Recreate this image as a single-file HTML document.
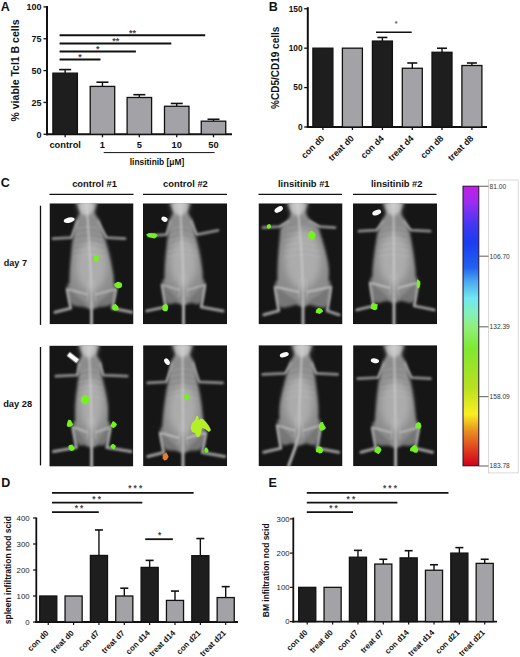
<!DOCTYPE html>
<html><head><meta charset="utf-8"><title>Figure</title>
<style>html,body{margin:0;padding:0;background:#fff;} svg{display:block;} text{font-family:"Liberation Sans", sans-serif;}</style>
</head><body>
<svg width="520" height="657" viewBox="0 0 520 657">
<defs>
<filter id="blur05" x="-50%" y="-50%" width="200%" height="200%"><feGaussianBlur stdDeviation="0.5"/></filter>
<filter id="blur1" x="-20%" y="-20%" width="140%" height="140%"><feGaussianBlur stdDeviation="0.8"/></filter>
<filter id="blur2" x="-20%" y="-20%" width="140%" height="140%"><feGaussianBlur stdDeviation="1.6"/></filter>
<filter id="blur3" x="-30%" y="-30%" width="160%" height="160%"><feGaussianBlur stdDeviation="3.5"/></filter>
<linearGradient id="cbar" x1="0" y1="0" x2="0" y2="1">
<stop offset="0" stop-color="#c41ee6"/>
<stop offset="0.06" stop-color="#9a2cf0"/>
<stop offset="0.13" stop-color="#4a36f2"/>
<stop offset="0.20" stop-color="#1a3cf0"/>
<stop offset="0.29" stop-color="#2260ee"/>
<stop offset="0.34" stop-color="#4aa8f0"/>
<stop offset="0.40" stop-color="#70e8f0"/>
<stop offset="0.45" stop-color="#80f0c0"/>
<stop offset="0.50" stop-color="#90f080"/>
<stop offset="0.58" stop-color="#80e830"/>
<stop offset="0.72" stop-color="#b8e020"/>
<stop offset="0.815" stop-color="#f8f020"/>
<stop offset="0.875" stop-color="#e89020"/>
<stop offset="0.94" stop-color="#e04020"/>
<stop offset="1" stop-color="#d00018"/>
</linearGradient>
</defs>
<rect width="520" height="657" fill="#fff"/>
<text x="0.8" y="10.9" font-size="12.5" font-weight="bold" text-anchor="start" fill="#111">A</text>
<line x1="47" y1="6" x2="47" y2="135.3" stroke="#111" stroke-width="2"/>
<line x1="43.5" y1="134.3" x2="47" y2="134.3" stroke="#111" stroke-width="1.3"/>
<text x="41.5" y="137.5" font-size="9" font-weight="bold" text-anchor="end" fill="#111">0</text>
<line x1="43.5" y1="102.45000000000002" x2="47" y2="102.45000000000002" stroke="#111" stroke-width="1.3"/>
<text x="41.5" y="105.65000000000002" font-size="9" font-weight="bold" text-anchor="end" fill="#111">25</text>
<line x1="43.5" y1="70.60000000000001" x2="47" y2="70.60000000000001" stroke="#111" stroke-width="1.3"/>
<text x="41.5" y="73.80000000000001" font-size="9" font-weight="bold" text-anchor="end" fill="#111">50</text>
<line x1="43.5" y1="38.750000000000014" x2="47" y2="38.750000000000014" stroke="#111" stroke-width="1.3"/>
<text x="41.5" y="41.95000000000002" font-size="9" font-weight="bold" text-anchor="end" fill="#111">75</text>
<line x1="43.5" y1="6.900000000000006" x2="47" y2="6.900000000000006" stroke="#111" stroke-width="1.3"/>
<text x="41.5" y="10.100000000000005" font-size="9" font-weight="bold" text-anchor="end" fill="#111">100</text>
<text x="18.8" y="70.5" font-size="10.5" font-weight="bold" text-anchor="middle" fill="#111" transform="rotate(-90 18.8 70.5)">% viable Tcl1 B cells</text>
<line x1="46" y1="134.3" x2="232" y2="134.3" stroke="#111" stroke-width="2"/>
<line x1="65.15" y1="69.58080000000001" x2="65.15" y2="73.14800000000001" stroke="#111" stroke-width="1.4"/>
<line x1="59.150000000000006" y1="69.58080000000001" x2="71.15" y2="69.58080000000001" stroke="#111" stroke-width="1.6"/>
<rect x="52.90" y="73.15" width="24.50" height="61.15" fill="#1e1e1e" stroke="#111" stroke-width="1.3"/>
<line x1="65.15" y1="134.3" x2="65.15" y2="137.3" stroke="#111" stroke-width="1.3"/>
<line x1="102.45" y1="82.19340000000001" x2="102.45" y2="86.39760000000001" stroke="#111" stroke-width="1.4"/>
<line x1="96.45" y1="82.19340000000001" x2="108.45" y2="82.19340000000001" stroke="#111" stroke-width="1.6"/>
<rect x="90.20" y="86.40" width="24.50" height="47.90" fill="#a3a3a7" stroke="#111" stroke-width="1.3"/>
<line x1="102.45" y1="134.3" x2="102.45" y2="137.3" stroke="#111" stroke-width="1.3"/>
<line x1="139.35" y1="94.67860000000002" x2="139.35" y2="97.48140000000001" stroke="#111" stroke-width="1.4"/>
<line x1="133.35" y1="94.67860000000002" x2="145.35" y2="94.67860000000002" stroke="#111" stroke-width="1.6"/>
<rect x="127.10" y="97.48" width="24.50" height="36.82" fill="#a3a3a7" stroke="#111" stroke-width="1.3"/>
<line x1="139.35" y1="134.3" x2="139.35" y2="137.3" stroke="#111" stroke-width="1.3"/>
<line x1="176.75" y1="103.46920000000001" x2="176.75" y2="106.27200000000002" stroke="#111" stroke-width="1.4"/>
<line x1="170.75" y1="103.46920000000001" x2="182.75" y2="103.46920000000001" stroke="#111" stroke-width="1.6"/>
<rect x="164.50" y="106.27" width="24.50" height="28.03" fill="#a3a3a7" stroke="#111" stroke-width="1.3"/>
<line x1="176.75" y1="134.3" x2="176.75" y2="137.3" stroke="#111" stroke-width="1.3"/>
<line x1="213.5" y1="119.26680000000002" x2="213.5" y2="121.1778" stroke="#111" stroke-width="1.4"/>
<line x1="207.5" y1="119.26680000000002" x2="219.5" y2="119.26680000000002" stroke="#111" stroke-width="1.6"/>
<rect x="201.25" y="121.18" width="24.50" height="13.12" fill="#a3a3a7" stroke="#111" stroke-width="1.3"/>
<line x1="213.5" y1="134.3" x2="213.5" y2="137.3" stroke="#111" stroke-width="1.3"/>
<text x="65.15" y="148" font-size="9.3" font-weight="bold" text-anchor="middle" fill="#111">control</text>
<text x="102.45" y="148" font-size="9.3" font-weight="bold" text-anchor="middle" fill="#111">1</text>
<text x="139.35" y="148" font-size="9.3" font-weight="bold" text-anchor="middle" fill="#111">5</text>
<text x="176.75" y="148" font-size="9.3" font-weight="bold" text-anchor="middle" fill="#111">10</text>
<text x="213.5" y="148" font-size="9.3" font-weight="bold" text-anchor="middle" fill="#111">50</text>
<line x1="103.7" y1="152.6" x2="214.6" y2="152.6" stroke="#111" stroke-width="1"/>
<text x="157" y="164.8" font-size="8.4" font-weight="bold" text-anchor="middle" fill="#111">linsitinib [μM]</text>
<line x1="59.6" y1="35.2" x2="205.2" y2="35.2" stroke="#111" stroke-width="2"/>
<line x1="59.6" y1="43.5" x2="171.3" y2="43.5" stroke="#111" stroke-width="2"/>
<line x1="59.6" y1="51.5" x2="135.9" y2="51.5" stroke="#111" stroke-width="2"/>
<line x1="59.6" y1="59.5" x2="100.5" y2="59.5" stroke="#111" stroke-width="2"/>
<text x="132.6" y="36" font-size="9" font-weight="bold" text-anchor="middle" fill="#444">**</text>
<text x="115.7" y="44.3" font-size="9" font-weight="bold" text-anchor="middle" fill="#444">**</text>
<text x="97.8" y="51.8" font-size="9" font-weight="bold" text-anchor="middle" fill="#444">*</text>
<text x="79.9" y="59.5" font-size="9" font-weight="bold" text-anchor="middle" fill="#444">*</text>
<text x="268.8" y="10.9" font-size="12.5" font-weight="bold" text-anchor="start" fill="#111">B</text>
<line x1="307.8" y1="7.2" x2="307.8" y2="128" stroke="#111" stroke-width="2"/>
<line x1="304.2" y1="127.0" x2="307.8" y2="127.0" stroke="#111" stroke-width="1.3"/>
<text x="302.6" y="129.9" font-size="8.3" font-weight="bold" text-anchor="end" fill="#111">0</text>
<line x1="304.2" y1="87.58333333333334" x2="307.8" y2="87.58333333333334" stroke="#111" stroke-width="1.3"/>
<text x="302.6" y="90.48333333333335" font-size="8.3" font-weight="bold" text-anchor="end" fill="#111">50</text>
<line x1="304.2" y1="48.16666666666667" x2="307.8" y2="48.16666666666667" stroke="#111" stroke-width="1.3"/>
<text x="302.6" y="51.06666666666667" font-size="8.3" font-weight="bold" text-anchor="end" fill="#111">100</text>
<line x1="304.2" y1="8.75" x2="307.8" y2="8.75" stroke="#111" stroke-width="1.3"/>
<text x="302.6" y="11.65" font-size="8.3" font-weight="bold" text-anchor="end" fill="#111">150</text>
<text x="278.6" y="67.8" font-size="10" font-weight="bold" text-anchor="middle" fill="#111" transform="rotate(-90 278.6 67.8)">%CD5/CD19 cells</text>
<line x1="306.8" y1="127" x2="487" y2="127" stroke="#111" stroke-width="2"/>
<rect x="312.90" y="48.17" width="20.00" height="78.83" fill="#1e1e1e" stroke="#111" stroke-width="1.3"/>
<line x1="322.9" y1="127" x2="322.9" y2="130" stroke="#111" stroke-width="1.3"/>
<text x="324.9" y="139" font-size="8.8" font-weight="bold" text-anchor="end" fill="#111" transform="rotate(-45 324.9 139)">con d0</text>
<rect x="342.40" y="48.17" width="20.00" height="78.83" fill="#a3a3a7" stroke="#111" stroke-width="1.3"/>
<line x1="352.4" y1="127" x2="352.4" y2="130" stroke="#111" stroke-width="1.3"/>
<text x="354.4" y="139" font-size="8.8" font-weight="bold" text-anchor="end" fill="#111" transform="rotate(-45 354.4 139)">treat d0</text>
<line x1="382.4" y1="37.44533333333334" x2="382.4" y2="41.07166666666667" stroke="#111" stroke-width="1.4"/>
<line x1="377.4" y1="37.44533333333334" x2="387.4" y2="37.44533333333334" stroke="#111" stroke-width="1.6"/>
<rect x="372.40" y="41.07" width="20.00" height="85.93" fill="#1e1e1e" stroke="#111" stroke-width="1.3"/>
<line x1="382.4" y1="127" x2="382.4" y2="130" stroke="#111" stroke-width="1.3"/>
<text x="384.4" y="139" font-size="8.8" font-weight="bold" text-anchor="end" fill="#111" transform="rotate(-45 384.4 139)">con d4</text>
<line x1="412.3" y1="62.987333333333325" x2="412.3" y2="68.26916666666666" stroke="#111" stroke-width="1.4"/>
<line x1="407.3" y1="62.987333333333325" x2="417.3" y2="62.987333333333325" stroke="#111" stroke-width="1.6"/>
<rect x="402.30" y="68.27" width="20.00" height="58.73" fill="#a3a3a7" stroke="#111" stroke-width="1.3"/>
<line x1="412.3" y1="127" x2="412.3" y2="130" stroke="#111" stroke-width="1.3"/>
<text x="414.3" y="139" font-size="8.8" font-weight="bold" text-anchor="end" fill="#111" transform="rotate(-45 414.3 139)">treat d4</text>
<line x1="442.0" y1="48.24549999999999" x2="442.0" y2="52.266000000000005" stroke="#111" stroke-width="1.4"/>
<line x1="437.0" y1="48.24549999999999" x2="447.0" y2="48.24549999999999" stroke="#111" stroke-width="1.6"/>
<rect x="432.00" y="52.27" width="20.00" height="74.73" fill="#1e1e1e" stroke="#111" stroke-width="1.3"/>
<line x1="442.0" y1="127" x2="442.0" y2="130" stroke="#111" stroke-width="1.3"/>
<text x="444.0" y="139" font-size="8.8" font-weight="bold" text-anchor="end" fill="#111" transform="rotate(-45 444.0 139)">con d8</text>
<line x1="471.9" y1="62.987333333333325" x2="471.9" y2="65.50999999999999" stroke="#111" stroke-width="1.4"/>
<line x1="466.9" y1="62.987333333333325" x2="476.9" y2="62.987333333333325" stroke="#111" stroke-width="1.6"/>
<rect x="461.90" y="65.51" width="20.00" height="61.49" fill="#a3a3a7" stroke="#111" stroke-width="1.3"/>
<line x1="471.9" y1="127" x2="471.9" y2="130" stroke="#111" stroke-width="1.3"/>
<text x="473.9" y="139" font-size="8.8" font-weight="bold" text-anchor="end" fill="#111" transform="rotate(-45 473.9 139)">treat d8</text>
<line x1="376" y1="32.3" x2="411.7" y2="32.3" stroke="#111" stroke-width="1.6"/>
<text x="396" y="25.5" font-size="7" font-weight="bold" text-anchor="middle" fill="#555">*</text>
<text x="0.8" y="187.2" font-size="12.5" font-weight="bold" text-anchor="start" fill="#111">C</text>
<text x="94.55" y="187.4" font-size="9.4" font-weight="bold" text-anchor="middle" fill="#111">control #1</text>
<line x1="49.5" y1="194.3" x2="133.5" y2="194.3" stroke="#111" stroke-width="1.3"/>
<text x="185.45" y="187.4" font-size="9.4" font-weight="bold" text-anchor="middle" fill="#111">control #2</text>
<line x1="143" y1="194.3" x2="227" y2="194.3" stroke="#111" stroke-width="1.3"/>
<text x="303.8" y="187.4" font-size="9.4" font-weight="bold" text-anchor="middle" fill="#111">linsitinib #1</text>
<line x1="258.5" y1="194.3" x2="342" y2="194.3" stroke="#111" stroke-width="1.3"/>
<text x="396.75" y="187.4" font-size="9.4" font-weight="bold" text-anchor="middle" fill="#111">linsitinib #2</text>
<line x1="353" y1="194.3" x2="436.5" y2="194.3" stroke="#111" stroke-width="1.3"/>
<text x="3.7" y="266.2" font-size="9.1" font-weight="bold" text-anchor="start" fill="#111">day 7</text>
<text x="3.2" y="407.2" font-size="9.3" font-weight="bold" text-anchor="start" fill="#111">day 28</text>
<line x1="40.5" y1="205.7" x2="40.5" y2="324.9" stroke="#111" stroke-width="1.3"/>
<line x1="40.5" y1="347" x2="40.5" y2="465.4" stroke="#111" stroke-width="1.3"/>
<clipPath id="clip0"><rect x="0" y="0" width="84" height="121"/></clipPath>
<g transform="translate(49.5 203.3)"><g clip-path="url(#clip0)">
<rect x="0" y="0" width="84" height="121" fill="#161616"/>
<g filter="url(#blur2)">
<path d="M21.3,79.0 C17.2,80.5 17.5,82.3 17.7,86.0 C17.9,89.7 19.3,98.0 22.2,101.0 C25.1,104.0 31.7,103.2 35.0,104.0 C38.3,104.8 39.7,106.0 42.0,106.0 C44.3,106.0 45.7,104.8 49.0,104.0 C52.3,103.2 58.9,104.0 61.8,101.0 C64.7,98.0 66.1,89.7 66.3,86.0 C66.5,82.3 66.8,80.5 62.7,79.0 C58.7,77.5 48.9,77.0 42.0,77.0 C35.1,77.0 25.3,77.5 21.3,79.0Z" fill="#767676"/>
<path d="M27.5,-3.0 C24.8,-1.0 30.3,5.7 30.1,9.0 C30.0,12.3 27.8,12.8 26.7,17.0 C25.6,21.2 24.5,29.7 23.7,34.3 C23.0,38.8 22.8,38.2 22.2,44.3 C21.7,50.4 20.5,64.7 20.2,71.0 C19.9,77.3 19.9,79.3 20.2,82.0 C20.5,84.7 20.3,85.0 21.7,87.0 C23.2,89.0 26.5,91.8 28.9,94.0 C31.3,96.2 34.4,98.2 36.0,100.0 C37.6,101.8 36.9,104.2 38.5,105.0 C40.1,105.8 43.9,105.8 45.5,105.0 C47.1,104.2 46.4,101.8 48.0,100.0 C49.6,98.2 52.7,96.2 55.1,94.0 C57.5,91.8 60.8,89.0 62.3,87.0 C63.7,85.0 63.5,84.7 63.8,82.0 C64.1,79.3 64.8,77.3 63.8,71.0 C62.8,64.7 59.4,50.4 58.0,44.3 C56.5,38.2 56.5,38.8 55.1,34.3 C53.7,29.7 51.4,21.2 49.7,17.0 C48.0,12.8 45.7,12.3 45.1,9.0 C44.6,5.7 49.4,-1.0 46.5,-3.0 C43.6,-5.0 30.2,-5.0 27.5,-3.0Z" fill="#8c8c8c"/>
</g>
<g filter="url(#blur3)"><ellipse cx="42.0" cy="62.6" rx="15.7" ry="25.4" fill="#acacac"/>
<ellipse cx="37.0" cy="2" rx="7" ry="8" fill="#c4c4c4"/></g>
<g filter="url(#blur1)" opacity="0.3" fill="none" stroke="#d0d0d0" stroke-width="0.9">
<path d="M26.6,26.0 Q38.6,21.0 50.6,26.0"/>
<path d="M26.1,31.5 Q39.0,26.5 51.9,31.5"/>
<path d="M25.6,37.0 Q39.4,32.0 53.2,37.0"/>
<path d="M25.1,42.5 Q39.8,37.5 54.5,42.5"/>
<path d="M24.6,48.0 Q40.2,43.0 55.8,48.0"/>
<path d="M24.1,53.5 Q40.6,48.5 57.0,53.5"/>
</g>
<ellipse cx="37.0" cy="3" rx="6.5" ry="9" fill="#cacaca" opacity="0.7" filter="url(#blur2)"/>
<g filter="url(#blur1)" fill="none" stroke-linejoin="round" stroke-linecap="round">
<path d="M28.2,18.0 L22.0,34.3 L3.5,35.3" stroke="#8e8e8e" stroke-width="2.8"/>
<path d="M48.2,18.0 L56.9,34.3 L75.5,35.3" stroke="#8e8e8e" stroke-width="2.8"/>
<path d="M17.7,86.0 L21.2,105.0 L5.4,109.0" stroke="#9a9a9a" stroke-width="3.0"/>
<path d="M66.3,86.0 L62.8,105.0 L82.5,109.0" stroke="#9a9a9a" stroke-width="3.0"/>
<path d="M18.7,86.0 L38.0,91.0 M65.3,86.0 L46.0,91.0" stroke="#cacaca" stroke-width="1.3"/>
<path d="M39.0,77.0 L38.0,97.0 M45.0,77.0 L46.0,97.0" stroke="#b8b8b8" stroke-width="1"/>
<path d="M17.7,86.0 L21.2,105.0 M66.3,86.0 L62.8,105.0 M28.2,18.0 L22.0,34.3 M48.2,18.0 L56.9,34.3" stroke="#b4b4b4" stroke-width="1"/>
<path d="M42.0,99.0 L42.0,123.0" stroke="#8c8c8c" stroke-width="3"/>
<path d="M37.0,0 Q42.0,71.0 42.0,95.0 L42.0,123.0" stroke="#d4d4d4" stroke-width="1.6" opacity="0.8"/>
</g>
<ellipse cx="19.7" cy="16.8" rx="5.6" ry="2.6" fill="#fafafa" transform="rotate(-12 19.7 16.8)"/>
<path d="M49.9,55.6 L48.5,57.0 L47.1,59.0 L45.1,58.6 L44.4,56.6 L44.5,54.3 L45.0,51.8 L47.4,52.3 L49.1,52.6Z" fill="#74f024" filter="url(#blur05)"/>
<path d="M72.7,82.4 L71.8,84.2 L69.1,85.2 L66.9,84.4 L65.1,83.0 L64.7,80.7 L67.6,78.7 L69.1,78.4 L72.2,79.7Z" fill="#74f024" filter="url(#blur05)"/>
<path d="M68.9,104.1 L69.3,106.7 L66.8,107.2 L64.7,107.2 L62.6,105.7 L62.6,103.1 L63.8,101.3 L66.3,100.7 L68.6,103.1Z" fill="#74f024" filter="url(#blur05)"/>
</g></g>
<clipPath id="clip1"><rect x="0" y="0" width="84" height="121"/></clipPath>
<g transform="translate(143 203.3)"><g clip-path="url(#clip1)">
<rect x="0" y="0" width="84" height="121" fill="#161616"/>
<g filter="url(#blur2)">
<path d="M22.6,74.7 C19.1,76.2 19.0,77.6 19.2,81.7 C19.4,85.8 21.3,96.6 23.7,99.6 C26.1,102.6 30.7,99.3 33.5,99.7 C36.3,100.1 38.2,101.7 40.5,101.7 C42.8,101.7 44.7,100.1 47.5,99.7 C50.3,99.3 54.9,102.6 57.3,99.6 C59.7,96.6 61.6,85.8 61.8,81.7 C62.0,77.6 61.9,76.2 58.4,74.7 C54.8,73.2 46.5,72.7 40.5,72.7 C34.5,72.7 26.2,73.2 22.6,74.7Z" fill="#767676"/>
<path d="M27.5,-3.0 C24.7,-1.0 30.2,5.7 30.0,9.0 C29.8,12.3 27.2,13.3 26.4,17.0 C25.6,20.7 25.5,27.2 25.1,31.3 C24.7,35.4 24.3,35.4 23.8,41.3 C23.2,47.2 22.0,60.6 21.7,66.7 C21.4,72.8 21.5,75.0 21.7,77.7 C21.9,80.4 21.8,80.7 23.0,82.7 C24.3,84.7 27.3,87.5 29.2,89.7 C31.1,91.9 33.2,93.9 34.5,95.7 C35.8,97.5 35.4,99.9 37.0,100.7 C38.6,101.5 42.4,101.5 44.0,100.7 C45.6,99.9 45.2,97.5 46.5,95.7 C47.8,93.9 49.9,91.9 51.8,89.7 C53.7,87.5 56.7,84.7 58.0,82.7 C59.2,80.7 59.1,80.4 59.3,77.7 C59.5,75.0 60.1,72.8 59.3,66.7 C58.5,60.6 55.8,47.2 54.6,41.3 C53.4,35.4 53.0,35.4 52.2,31.3 C51.3,27.2 50.6,20.7 49.4,17.0 C48.2,13.3 45.5,12.3 45.0,9.0 C44.5,5.7 49.4,-1.0 46.5,-3.0 C43.6,-5.0 30.3,-5.0 27.5,-3.0Z" fill="#8c8c8c"/>
</g>
<g filter="url(#blur3)"><ellipse cx="40.5" cy="59.0" rx="13.5" ry="24.7" fill="#acacac"/>
<ellipse cx="37.0" cy="2" rx="7" ry="8" fill="#c4c4c4"/></g>
<g filter="url(#blur1)" opacity="0.3" fill="none" stroke="#d0d0d0" stroke-width="0.9">
<path d="M27.9,26.0 Q38.2,21.0 48.5,26.0"/>
<path d="M27.3,31.5 Q38.5,26.5 49.7,31.5"/>
<path d="M26.6,37.0 Q38.8,32.0 50.9,37.0"/>
<path d="M26.0,42.5 Q39.1,37.5 52.1,42.5"/>
<path d="M25.4,48.0 Q39.4,43.0 53.3,48.0"/>
<path d="M24.8,53.5 Q39.6,48.5 54.5,53.5"/>
</g>
<ellipse cx="37.0" cy="3" rx="6.5" ry="9" fill="#cacaca" opacity="0.7" filter="url(#blur2)"/>
<g filter="url(#blur1)" fill="none" stroke-linejoin="round" stroke-linecap="round">
<path d="M27.9,18.0 L23.6,31.3 L5.9,32.3" stroke="#8e8e8e" stroke-width="2.8"/>
<path d="M47.9,18.0 L53.7,31.3 L75.0,27.0" stroke="#8e8e8e" stroke-width="2.8"/>
<path d="M19.2,81.7 L22.7,103.6 L3.9,107.6" stroke="#9a9a9a" stroke-width="3.0"/>
<path d="M61.8,81.7 L58.3,103.6 L80.0,107.6" stroke="#9a9a9a" stroke-width="3.0"/>
<path d="M20.2,81.7 L36.5,86.7 M60.8,81.7 L44.5,86.7" stroke="#cacaca" stroke-width="1.3"/>
<path d="M37.5,72.7 L36.5,92.7 M43.5,72.7 L44.5,92.7" stroke="#b8b8b8" stroke-width="1"/>
<path d="M19.2,81.7 L22.7,103.6 M61.8,81.7 L58.3,103.6 M27.9,18.0 L23.6,31.3 M47.9,18.0 L53.7,31.3" stroke="#b4b4b4" stroke-width="1"/>
<path d="M40.5,94.7 L40.5,123.0" stroke="#8c8c8c" stroke-width="3"/>
<path d="M37.0,0 Q40.5,66.7 40.5,90.7 L40.5,123.0" stroke="#d4d4d4" stroke-width="1.6" opacity="0.8"/>
</g>
<ellipse cx="21.5" cy="15.9" rx="3.2" ry="2.4" fill="#fafafa" transform="rotate(25 21.5 15.9)"/>
<path d="M14.7,32.2 L13.6,33.4 L11.6,35.2 L7.2,34.2 L4.8,33.5 L3.1,31.3 L6.3,29.6 L11.8,29.9 L13.4,30.8Z" fill="#74f024" filter="url(#blur05)"/>
<path d="M25.2,104.4 L24.5,107.2 L23.7,108.0 L20.8,108.0 L19.5,106.0 L19.4,102.7 L20.9,101.4 L23.3,100.1 L24.7,102.1Z" fill="#74f024" filter="url(#blur05)"/>
</g></g>
<clipPath id="clip2"><rect x="0" y="0" width="84" height="121"/></clipPath>
<g transform="translate(258.5 203.3)"><g clip-path="url(#clip2)">
<rect x="0" y="0" width="84" height="121" fill="#161616"/>
<g filter="url(#blur2)">
<path d="M20.5,76.7 C15.8,78.2 16.6,79.2 16.7,83.7 C16.8,88.2 17.7,100.5 21.2,103.5 C24.7,106.5 33.6,101.7 37.5,101.7 C41.4,101.7 42.2,103.7 44.5,103.7 C46.8,103.7 47.6,101.7 51.5,101.7 C55.4,101.7 64.3,106.5 67.8,103.5 C71.3,100.5 72.2,88.2 72.3,83.7 C72.4,79.2 73.2,78.2 68.5,76.7 C63.9,75.2 52.5,74.7 44.5,74.7 C36.5,74.7 25.1,75.2 20.5,76.7Z" fill="#767676"/>
<path d="M29.5,-3.0 C26.8,-1.0 32.4,5.7 32.3,9.0 C32.2,12.3 30.6,14.6 29.0,17.0 C27.5,19.4 24.2,20.7 22.9,23.4 C21.6,26.1 21.9,27.2 21.3,33.4 C20.7,39.6 19.5,53.0 19.2,60.7 C18.9,68.4 18.9,75.7 19.2,79.7 C19.5,83.7 19.3,82.7 21.0,84.7 C22.7,86.7 26.4,89.5 29.3,91.7 C32.2,93.9 36.6,95.9 38.5,97.7 C40.4,99.5 39.4,101.9 41.0,102.7 C42.6,103.5 46.4,103.5 48.0,102.7 C49.6,101.9 48.6,99.5 50.5,97.7 C52.4,95.9 56.8,93.9 59.7,91.7 C62.6,89.5 66.3,86.7 68.0,84.7 C69.7,82.7 69.5,83.7 69.8,79.7 C70.1,75.7 71.0,68.4 69.8,60.7 C68.6,53.0 64.5,39.6 62.8,33.4 C61.0,27.2 61.1,26.1 59.3,23.4 C57.5,20.7 54.0,19.4 52.0,17.0 C50.0,14.6 47.9,12.3 47.3,9.0 C46.7,5.7 51.5,-1.0 48.5,-3.0 C45.5,-5.0 32.2,-5.0 29.5,-3.0Z" fill="#8c8c8c"/>
</g>
<g filter="url(#blur3)"><ellipse cx="44.5" cy="56.0" rx="18.2" ry="29.7" fill="#acacac"/>
<ellipse cx="39.0" cy="2" rx="7" ry="8" fill="#c4c4c4"/></g>
<g filter="url(#blur1)" opacity="0.3" fill="none" stroke="#d0d0d0" stroke-width="0.9">
<path d="M27.2,26.0 Q41.1,21.0 55.0,26.0"/>
<path d="M26.8,31.5 Q41.6,26.5 56.4,31.5"/>
<path d="M26.4,37.0 Q42.1,32.0 57.8,37.0"/>
<path d="M26.0,42.5 Q42.6,37.5 59.2,42.5"/>
<path d="M25.6,48.0 Q43.1,43.0 60.6,48.0"/>
<path d="M25.2,53.5 Q43.6,48.5 62.0,53.5"/>
</g>
<ellipse cx="39.0" cy="3" rx="6.5" ry="9" fill="#cacaca" opacity="0.7" filter="url(#blur2)"/>
<g filter="url(#blur1)" fill="none" stroke-linejoin="round" stroke-linecap="round">
<path d="M30.5,18.0 L20.9,23.4 L4.4,24.4" stroke="#8e8e8e" stroke-width="2.8"/>
<path d="M50.5,18.0 L61.4,23.4 L76.5,24.4" stroke="#8e8e8e" stroke-width="2.8"/>
<path d="M16.7,83.7 L20.2,107.5 L5.4,111.5" stroke="#9a9a9a" stroke-width="3.0"/>
<path d="M72.3,83.7 L68.8,107.5 L80.6,111.5" stroke="#9a9a9a" stroke-width="3.0"/>
<path d="M17.7,83.7 L40.5,88.7 M71.3,83.7 L48.5,88.7" stroke="#cacaca" stroke-width="1.3"/>
<path d="M41.5,74.7 L40.5,94.7 M47.5,74.7 L48.5,94.7" stroke="#b8b8b8" stroke-width="1"/>
<path d="M16.7,83.7 L20.2,107.5 M72.3,83.7 L68.8,107.5 M30.5,18.0 L20.9,23.4 M50.5,18.0 L61.4,23.4" stroke="#b4b4b4" stroke-width="1"/>
<path d="M44.5,96.7 L44.5,123.0" stroke="#8c8c8c" stroke-width="3"/>
<path d="M39.0,0 Q44.5,60.7 44.5,92.7 L44.5,123.0" stroke="#d4d4d4" stroke-width="1.6" opacity="0.8"/>
</g>
<ellipse cx="20.2" cy="6.2" rx="4.6" ry="2.6" fill="#fafafa" transform="rotate(-30 20.2 6.2)"/>
<path d="M12.6,23.6 L11.9,24.8 L10.5,25.4 L9.2,25.1 L8.5,24.3 L8.3,22.8 L8.6,21.6 L10.6,20.8 L12.1,21.5Z" fill="#74f024" filter="url(#blur05)"/>
<path d="M57.4,31.5 L56.0,35.4 L53.4,37.2 L51.7,35.4 L50.0,34.5 L49.1,31.2 L51.8,27.4 L54.0,27.7 L56.5,29.7Z" fill="#74f024" filter="url(#blur05)"/>
<path d="M64.8,108.0 L62.7,109.6 L61.0,110.8 L59.7,110.2 L57.2,109.5 L57.5,106.6 L59.6,104.8 L61.1,104.7 L63.1,105.8Z" fill="#74f024" filter="url(#blur05)"/>
</g></g>
<clipPath id="clip3"><rect x="0" y="0" width="84" height="121"/></clipPath>
<g transform="translate(353 203.3)"><g clip-path="url(#clip3)">
<rect x="0" y="0" width="84" height="121" fill="#161616"/>
<g filter="url(#blur2)">
<path d="M20.8,72.7 C16.8,74.2 17.0,75.4 17.2,79.7 C17.4,84.0 18.9,95.6 21.7,98.6 C24.5,101.6 30.8,97.5 34.0,97.7 C37.2,97.9 38.7,99.7 41.0,99.7 C43.3,99.7 44.8,97.9 48.0,97.7 C51.2,97.5 57.5,101.6 60.3,98.6 C63.1,95.6 64.6,84.0 64.8,79.7 C65.0,75.4 65.2,74.2 61.2,72.7 C57.3,71.2 47.7,70.7 41.0,70.7 C34.3,70.7 24.7,71.2 20.8,72.7Z" fill="#767676"/>
<path d="M31.0,-3.0 C28.2,-1.0 33.4,5.7 33.1,9.0 C32.8,12.3 30.4,14.0 29.1,17.0 C27.8,20.0 26.3,23.6 25.4,26.9 C24.4,30.2 24.3,30.5 23.3,36.9 C22.4,43.2 20.3,58.5 19.7,65.0 C19.1,71.5 19.5,73.1 19.7,75.7 C19.9,78.3 19.8,78.7 21.2,80.7 C22.6,82.7 25.9,85.5 28.2,87.7 C30.5,89.9 33.5,91.9 35.0,93.7 C36.5,95.5 35.9,97.9 37.5,98.7 C39.1,99.5 42.9,99.5 44.5,98.7 C46.1,97.9 45.5,95.5 47.0,93.7 C48.5,91.9 51.5,89.9 53.8,87.7 C56.1,85.5 59.4,82.7 60.8,80.7 C62.2,78.7 62.1,78.3 62.3,75.7 C62.5,73.1 63.0,71.5 62.3,65.0 C61.6,58.5 59.3,43.2 58.2,36.9 C57.2,30.5 57.1,30.2 56.0,26.9 C55.0,23.6 53.5,20.0 52.1,17.0 C50.8,14.0 48.4,12.3 48.1,9.0 C47.7,5.7 52.8,-1.0 50.0,-3.0 C47.2,-5.0 33.8,-5.0 31.0,-3.0Z" fill="#8c8c8c"/>
</g>
<g filter="url(#blur3)"><ellipse cx="41.0" cy="55.8" rx="15.3" ry="25.9" fill="#acacac"/>
<ellipse cx="40.5" cy="2" rx="7" ry="8" fill="#c4c4c4"/></g>
<g filter="url(#blur1)" opacity="0.3" fill="none" stroke="#d0d0d0" stroke-width="0.9">
<path d="M29.0,26.0 Q40.7,21.0 52.4,26.0"/>
<path d="M28.1,31.5 Q40.7,26.5 53.3,31.5"/>
<path d="M27.2,37.0 Q40.8,32.0 54.3,37.0"/>
<path d="M26.4,42.5 Q40.8,37.5 55.2,42.5"/>
<path d="M25.5,48.0 Q40.8,43.0 56.2,48.0"/>
<path d="M24.7,53.5 Q40.9,48.5 57.1,53.5"/>
</g>
<ellipse cx="40.5" cy="3" rx="6.5" ry="9" fill="#cacaca" opacity="0.7" filter="url(#blur2)"/>
<g filter="url(#blur1)" fill="none" stroke-linejoin="round" stroke-linecap="round">
<path d="M30.6,18.0 L23.7,26.9 L5.9,27.9" stroke="#8e8e8e" stroke-width="2.8"/>
<path d="M50.6,18.0 L57.7,26.9 L77.1,27.9" stroke="#8e8e8e" stroke-width="2.8"/>
<path d="M17.2,79.7 L20.7,102.6 L3.9,106.6" stroke="#9a9a9a" stroke-width="3.0"/>
<path d="M64.8,79.7 L61.3,102.6 L81.1,106.6" stroke="#9a9a9a" stroke-width="3.0"/>
<path d="M18.2,79.7 L37.0,84.7 M63.8,79.7 L45.0,84.7" stroke="#cacaca" stroke-width="1.3"/>
<path d="M38.0,70.7 L37.0,90.7 M44.0,70.7 L45.0,90.7" stroke="#b8b8b8" stroke-width="1"/>
<path d="M17.2,79.7 L20.7,102.6 M64.8,79.7 L61.3,102.6 M30.6,18.0 L23.7,26.9 M50.6,18.0 L57.7,26.9" stroke="#b4b4b4" stroke-width="1"/>
<path d="M41.0,92.7 L41.0,123.0" stroke="#8c8c8c" stroke-width="3"/>
<path d="M40.5,0 Q41.0,65.0 41.0,88.7 L41.0,123.0" stroke="#d4d4d4" stroke-width="1.6" opacity="0.8"/>
</g>
<ellipse cx="23.7" cy="9.3" rx="4.6" ry="2.5" fill="#fafafa" transform="rotate(-20 23.7 9.3)"/>
<path d="M24.3,103.6 L24.3,105.6 L22.3,107.0 L20.0,106.4 L17.4,105.0 L18.2,101.8 L19.2,99.7 L21.5,100.1 L24.9,101.3Z" fill="#74f024" filter="url(#blur05)"/>
<path d="M67.3,81.3 L66.5,83.9 L65.6,85.2 L64.0,84.8 L63.7,82.5 L63.8,79.4 L64.1,76.0 L65.5,76.8 L67.2,78.2Z" fill="#74f024" filter="url(#blur05)"/>
</g></g>
<clipPath id="clip4"><rect x="0" y="0" width="84" height="121"/></clipPath>
<g transform="translate(49.3 345.6)"><g clip-path="url(#clip4)">
<rect x="0" y="0" width="84" height="121" fill="#161616"/>
<g filter="url(#blur2)">
<path d="M26.9,74.8 C23.8,76.3 23.4,77.9 23.6,81.8 C23.8,85.7 26.1,95.0 28.1,98.0 C30.0,101.0 32.9,99.2 35.3,99.8 C37.7,100.4 40.0,101.8 42.3,101.8 C44.6,101.8 46.9,100.4 49.3,99.8 C51.7,99.2 54.5,101.0 56.5,98.0 C58.5,95.0 60.8,85.7 61.0,81.8 C61.2,77.9 60.8,76.3 57.7,74.8 C54.6,73.3 47.4,72.8 42.3,72.8 C37.2,72.8 30.0,73.3 26.9,74.8Z" fill="#767676"/>
<path d="M30.1,-3.0 C27.3,-1.0 32.7,5.7 32.5,9.0 C32.3,12.3 29.4,13.6 28.9,17.0 C28.3,20.4 29.4,25.8 29.3,29.6 C29.1,33.4 28.6,34.5 28.1,39.6 C27.6,44.7 26.4,53.6 26.1,60.0 C25.8,66.4 25.9,74.0 26.1,77.8 C26.3,81.6 26.2,80.8 27.2,82.8 C28.3,84.8 31.1,87.6 32.6,89.8 C34.1,92.0 35.3,94.0 36.3,95.8 C37.3,97.6 37.2,100.0 38.8,100.8 C40.4,101.6 44.2,101.6 45.8,100.8 C47.4,100.0 47.3,97.6 48.3,95.8 C49.3,94.0 50.5,92.0 52.0,89.8 C53.5,87.6 56.3,84.8 57.4,82.8 C58.4,80.8 58.3,81.6 58.5,77.8 C58.7,74.0 59.1,66.4 58.5,60.0 C57.9,53.6 55.6,44.7 54.7,39.6 C53.7,34.5 53.1,33.4 52.6,29.6 C52.1,25.8 52.7,20.4 51.9,17.0 C51.0,13.6 48.0,12.3 47.5,9.0 C47.0,5.7 52.0,-1.0 49.1,-3.0 C46.2,-5.0 32.9,-5.0 30.1,-3.0Z" fill="#8c8c8c"/>
</g>
<g filter="url(#blur3)"><ellipse cx="42.3" cy="58.2" rx="11.7" ry="25.6" fill="#acacac"/>
<ellipse cx="39.6" cy="2" rx="7" ry="8" fill="#c4c4c4"/></g>
<g filter="url(#blur1)" opacity="0.3" fill="none" stroke="#d0d0d0" stroke-width="0.9">
<path d="M31.7,26.0 Q40.6,21.0 49.5,26.0"/>
<path d="M31.1,31.5 Q40.9,26.5 50.7,31.5"/>
<path d="M30.4,37.0 Q41.1,32.0 51.8,37.0"/>
<path d="M29.8,42.5 Q41.4,37.5 53.0,42.5"/>
<path d="M29.1,48.0 Q41.6,43.0 54.1,48.0"/>
<path d="M28.5,53.5 Q41.9,48.5 55.3,53.5"/>
</g>
<ellipse cx="39.6" cy="3" rx="6.5" ry="9" fill="#cacaca" opacity="0.7" filter="url(#blur2)"/>
<g filter="url(#blur1)" fill="none" stroke-linejoin="round" stroke-linecap="round">
<path d="M30.4,18.0 L28.0,29.6 L6.5,30.6" stroke="#8e8e8e" stroke-width="2.8"/>
<path d="M50.4,18.0 L53.9,29.6 L77.9,30.6" stroke="#8e8e8e" stroke-width="2.8"/>
<path d="M23.6,81.8 L27.1,102.0 L4.2,106.0" stroke="#9a9a9a" stroke-width="3.0"/>
<path d="M61.0,81.8 L57.5,102.0 L81.7,106.0" stroke="#9a9a9a" stroke-width="3.0"/>
<path d="M24.6,81.8 L38.3,86.8 M60.0,81.8 L46.3,86.8" stroke="#cacaca" stroke-width="1.3"/>
<path d="M39.3,72.8 L38.3,92.8 M45.3,72.8 L46.3,92.8" stroke="#b8b8b8" stroke-width="1"/>
<path d="M23.6,81.8 L27.1,102.0 M61.0,81.8 L57.5,102.0 M30.4,18.0 L28.0,29.6 M50.4,18.0 L53.9,29.6" stroke="#b4b4b4" stroke-width="1"/>
<path d="M42.3,94.8 L42.3,123.0" stroke="#8c8c8c" stroke-width="3"/>
<path d="M39.6,0 Q42.3,60.0 42.3,90.8 L42.3,123.0" stroke="#d4d4d4" stroke-width="1.6" opacity="0.8"/>
</g>
<rect x="17.7" y="9.6" width="12" height="4.8" fill="#fafafa" transform="rotate(38 23.7 12)" filter="url(#blur05)"/>
<path d="M41.4,55.3 L39.3,56.4 L36.5,59.3 L33.7,57.6 L31.4,56.2 L31.9,51.8 L33.9,50.0 L37.4,49.4 L39.8,51.8Z" fill="#74f024" filter="url(#blur05)"/>
<path d="M23.9,78.8 L22.7,80.4 L21.0,81.1 L18.6,81.3 L17.4,79.6 L18.0,76.8 L19.0,74.1 L21.4,74.3 L22.2,75.8Z" fill="#74f024" filter="url(#blur05)"/>
<path d="M67.7,78.9 L66.4,81.0 L64.5,82.5 L62.8,82.0 L60.8,80.5 L62.3,77.9 L63.2,75.8 L64.5,75.6 L66.6,77.5Z" fill="#74f024" filter="url(#blur05)"/>
<path d="M25.7,102.7 L24.1,104.8 L22.5,105.3 L21.0,104.8 L19.5,103.4 L19.1,100.8 L20.1,99.5 L23.1,99.0 L23.8,100.3Z" fill="#74f024" filter="url(#blur05)"/>
<path d="M66.7,100.4 L65.4,102.8 L64.3,103.9 L63.0,103.0 L61.0,101.5 L61.5,100.2 L62.7,98.3 L64.2,98.4 L65.2,99.1Z" fill="#74f024" filter="url(#blur05)"/>
</g></g>
<clipPath id="clip5"><rect x="0" y="0" width="84" height="121"/></clipPath>
<g transform="translate(143.1 345.2)"><g clip-path="url(#clip5)">
<rect x="0" y="0" width="84" height="121" fill="#161616"/>
<g filter="url(#blur2)">
<path d="M20.6,80.8 C16.8,82.3 16.9,84.0 17.1,87.8 C17.3,91.5 19.0,100.3 21.6,103.3 C24.2,106.3 29.8,105.0 32.9,105.8 C35.9,106.5 37.6,107.8 39.9,107.8 C42.2,107.8 43.8,106.5 46.9,105.8 C50.0,105.0 55.6,106.3 58.2,103.3 C60.8,100.3 62.5,91.5 62.7,87.8 C62.9,84.0 63.0,82.3 59.2,80.8 C55.4,79.3 46.3,78.8 39.9,78.8 C33.5,78.8 24.4,79.3 20.6,80.8Z" fill="#767676"/>
<path d="M29.9,-3.0 C27.1,-1.0 32.3,5.7 32.0,9.0 C31.6,12.3 29.2,12.4 28.0,17.0 C26.9,21.6 25.9,31.8 25.0,36.7 C24.2,41.7 24.0,40.3 23.1,46.7 C22.2,53.1 20.2,68.8 19.6,75.0 C19.0,81.2 19.4,81.5 19.6,83.8 C19.8,86.1 19.7,86.8 21.0,88.8 C22.4,90.8 25.6,93.6 27.7,95.8 C29.9,98.0 32.5,100.0 33.9,101.8 C35.3,103.6 34.8,106.0 36.4,106.8 C38.0,107.6 41.8,107.6 43.4,106.8 C45.0,106.0 44.5,103.6 45.9,101.8 C47.3,100.0 49.9,98.0 52.1,95.8 C54.2,93.6 57.4,90.8 58.8,88.8 C60.1,86.8 60.0,86.1 60.2,83.8 C60.4,81.5 60.8,81.2 60.2,75.0 C59.6,68.8 57.3,53.1 56.4,46.7 C55.4,40.3 55.2,41.7 54.3,36.7 C53.4,31.8 52.2,21.6 51.0,17.0 C49.8,12.4 47.3,12.3 47.0,9.0 C46.6,5.7 51.7,-1.0 48.9,-3.0 C46.1,-5.0 32.7,-5.0 29.9,-3.0Z" fill="#8c8c8c"/>
</g>
<g filter="url(#blur3)"><ellipse cx="39.9" cy="64.8" rx="14.6" ry="25.0" fill="#acacac"/>
<ellipse cx="39.4" cy="2" rx="7" ry="8" fill="#c4c4c4"/></g>
<g filter="url(#blur1)" opacity="0.3" fill="none" stroke="#d0d0d0" stroke-width="0.9">
<path d="M28.4,26.0 Q39.6,21.0 50.7,26.0"/>
<path d="M27.5,31.5 Q39.6,26.5 51.7,31.5"/>
<path d="M26.7,37.0 Q39.6,32.0 52.6,37.0"/>
<path d="M25.8,42.5 Q39.7,37.5 53.5,42.5"/>
<path d="M24.9,48.0 Q39.7,43.0 54.5,48.0"/>
<path d="M24.1,53.5 Q39.7,48.5 55.4,53.5"/>
</g>
<ellipse cx="39.4" cy="3" rx="6.5" ry="9" fill="#cacaca" opacity="0.7" filter="url(#blur2)"/>
<g filter="url(#blur1)" fill="none" stroke-linejoin="round" stroke-linecap="round">
<path d="M29.5,18.0 L23.4,36.7 L4.6,37.7" stroke="#8e8e8e" stroke-width="2.8"/>
<path d="M49.5,18.0 L55.9,36.7 L79.5,37.7" stroke="#8e8e8e" stroke-width="2.8"/>
<path d="M17.1,87.8 L20.6,107.3 L4.6,111.3" stroke="#9a9a9a" stroke-width="3.0"/>
<path d="M62.7,87.8 L59.2,107.3 L81.5,111.3" stroke="#9a9a9a" stroke-width="3.0"/>
<path d="M18.1,87.8 L35.9,92.8 M61.7,87.8 L43.9,92.8" stroke="#cacaca" stroke-width="1.3"/>
<path d="M36.9,78.8 L35.9,98.8 M42.9,78.8 L43.9,98.8" stroke="#b8b8b8" stroke-width="1"/>
<path d="M17.1,87.8 L20.6,107.3 M62.7,87.8 L59.2,107.3 M29.5,18.0 L23.4,36.7 M49.5,18.0 L55.9,36.7" stroke="#b4b4b4" stroke-width="1"/>
<path d="M39.9,100.8 L39.9,123.0" stroke="#8c8c8c" stroke-width="3"/>
<path d="M39.4,0 Q39.9,75.0 39.9,96.8 L39.9,123.0" stroke="#d4d4d4" stroke-width="1.6" opacity="0.8"/>
</g>
<ellipse cx="23.9" cy="16.5" rx="3.6" ry="2.4" fill="#fafafa" transform="rotate(55 23.9 16.5)"/>
<path d="M46.2,51.4 L45.9,53.5 L43.1,55.2 L41.8,53.4 L40.4,52.8 L40.9,50.5 L41.3,49.4 L43.9,48.3 L45.3,50.0Z" fill="#74f024" filter="url(#blur05)"/>
<path d="M53.4,70.8 L54.9,70.8 L55.9,74.8 L57.9,73.3 L59.9,73.8 L62.9,76.8 L65.9,80.8 L67.9,84.8 L65.9,86.8 L61.9,83.8 L58.9,82.8 L57.9,87.8 L55.9,91.8 L53.9,91.8 L51.9,87.8 L48.9,86.8 L47.4,82.8 L48.9,77.8 L51.9,74.8Z" fill="#b4f028" filter="url(#blur05)"/>
<path d="M65.4,104.8 L65.3,106.6 L63.9,107.6 L62.2,107.2 L61.1,105.4 L61.4,104.3 L62.0,102.6 L63.9,102.4 L64.4,103.2Z" fill="#74f024" filter="url(#blur05)"/>
<path d="M25.5,111.3 L24.5,113.2 L23.4,114.8 L21.2,115.4 L19.6,113.3 L19.6,109.9 L21.4,108.4 L23.2,107.1 L24.6,109.6Z" fill="#e0802c" filter="url(#blur05)"/>
</g></g>
<clipPath id="clip6"><rect x="0" y="0" width="84" height="121"/></clipPath>
<g transform="translate(258.5 345.2)"><g clip-path="url(#clip6)">
<rect x="0" y="0" width="84" height="121" fill="#161616"/>
<g filter="url(#blur2)">
<path d="M22.3,73.4 C18.6,74.9 18.6,76.1 18.8,80.4 C19.0,84.7 20.9,96.0 23.3,99.0 C25.8,102.0 30.6,98.2 33.5,98.4 C36.4,98.6 38.2,100.4 40.5,100.4 C42.8,100.4 44.6,98.6 47.5,98.4 C50.4,98.2 55.2,102.0 57.7,99.0 C60.2,96.0 62.0,84.7 62.2,80.4 C62.4,76.1 62.4,74.9 58.7,73.4 C55.1,71.9 46.6,71.4 40.5,71.4 C34.4,71.4 25.9,71.9 22.3,73.4Z" fill="#767676"/>
<path d="M34.2,-3.0 C31.3,-1.0 36.2,5.7 35.7,9.0 C35.2,12.3 32.5,13.8 31.3,17.0 C30.1,20.2 29.3,24.7 28.4,28.2 C27.5,31.7 27.1,32.9 25.9,38.2 C24.7,43.5 22.1,53.6 21.3,60.0 C20.5,66.4 21.1,72.8 21.3,76.4 C21.5,80.0 21.4,79.4 22.6,81.4 C23.9,83.4 27.0,86.2 29.0,88.4 C31.0,90.6 33.2,92.6 34.5,94.4 C35.8,96.2 35.4,98.6 37.0,99.4 C38.6,100.2 42.4,100.2 44.0,99.4 C45.6,98.6 45.2,96.2 46.5,94.4 C47.8,92.6 50.0,90.6 52.0,88.4 C54.0,86.2 57.1,83.4 58.4,81.4 C59.6,79.4 59.5,80.0 59.7,76.4 C59.9,72.8 60.1,66.4 59.7,60.0 C59.3,53.6 58.0,43.5 57.4,38.2 C56.8,32.9 56.5,31.7 56.0,28.2 C55.5,24.7 55.2,20.2 54.3,17.0 C53.4,13.8 50.9,12.3 50.7,9.0 C50.5,5.7 56.0,-1.0 53.2,-3.0 C50.4,-5.0 37.1,-5.0 34.2,-3.0Z" fill="#8c8c8c"/>
</g>
<g filter="url(#blur3)"><ellipse cx="40.5" cy="56.8" rx="13.8" ry="25.6" fill="#acacac"/>
<ellipse cx="43.7" cy="2" rx="7" ry="8" fill="#c4c4c4"/></g>
<g filter="url(#blur1)" opacity="0.3" fill="none" stroke="#d0d0d0" stroke-width="0.9">
<path d="M31.9,26.0 Q42.5,21.0 53.0,26.0"/>
<path d="M30.7,31.5 Q42.2,26.5 53.6,31.5"/>
<path d="M29.5,37.0 Q41.9,32.0 54.2,37.0"/>
<path d="M28.3,42.5 Q41.6,37.5 54.9,42.5"/>
<path d="M27.1,48.0 Q41.3,43.0 55.5,48.0"/>
<path d="M25.9,53.5 Q41.0,48.5 56.1,53.5"/>
</g>
<ellipse cx="43.7" cy="3" rx="6.5" ry="9" fill="#cacaca" opacity="0.7" filter="url(#blur2)"/>
<g filter="url(#blur1)" fill="none" stroke-linejoin="round" stroke-linecap="round">
<path d="M32.8,18.0 L26.8,28.2 L4.2,29.2" stroke="#8e8e8e" stroke-width="2.8"/>
<path d="M52.8,18.0 L57.6,28.2 L79.1,29.2" stroke="#8e8e8e" stroke-width="2.8"/>
<path d="M18.8,80.4 L22.3,103.0 L5.3,107.0" stroke="#9a9a9a" stroke-width="3.0"/>
<path d="M62.2,80.4 L58.7,103.0 L80.1,107.0" stroke="#9a9a9a" stroke-width="3.0"/>
<path d="M19.8,80.4 L36.5,85.4 M61.2,80.4 L44.5,85.4" stroke="#cacaca" stroke-width="1.3"/>
<path d="M37.5,71.4 L36.5,91.4 M43.5,71.4 L44.5,91.4" stroke="#b8b8b8" stroke-width="1"/>
<path d="M18.8,80.4 L22.3,103.0 M62.2,80.4 L58.7,103.0 M32.8,18.0 L26.8,28.2 M52.8,18.0 L57.6,28.2" stroke="#b4b4b4" stroke-width="1"/>
<path d="M40.5,93.4 L29.9,121.0" stroke="#8c8c8c" stroke-width="3"/>
<path d="M43.7,0 Q40.5,60.0 40.5,89.4 L29.9,121.0" stroke="#d4d4d4" stroke-width="1.6" opacity="0.8"/>
</g>
<ellipse cx="25.8" cy="9.6" rx="4.6" ry="2.4" fill="#fafafa" transform="rotate(-15 25.8 9.6)"/>
<path d="M67.4,82.2 L66.7,83.8 L64.5,85.4 L62.1,85.6 L60.6,83.0 L60.4,80.1 L62.0,77.1 L64.3,76.9 L65.5,79.6Z" fill="#74f024" filter="url(#blur05)"/>
<path d="M64.9,105.0 L63.5,107.7 L60.9,108.3 L59.6,107.4 L57.5,106.7 L57.4,104.4 L59.1,101.2 L60.8,101.1 L63.1,102.0Z" fill="#74f024" filter="url(#blur05)"/>
</g></g>
<clipPath id="clip7"><rect x="0" y="0" width="84" height="121"/></clipPath>
<g transform="translate(353.1 345.2)"><g clip-path="url(#clip7)">
<rect x="0" y="0" width="84" height="121" fill="#161616"/>
<g filter="url(#blur2)">
<path d="M22.8,75.5 C19.0,77.0 19.1,78.6 19.3,82.5 C19.5,86.4 21.1,96.0 23.8,99.0 C26.5,102.0 32.4,99.9 35.5,100.5 C38.6,101.1 40.2,102.5 42.5,102.5 C44.8,102.5 46.4,101.1 49.5,100.5 C52.6,99.9 58.5,102.0 61.2,99.0 C63.9,96.0 65.5,86.4 65.7,82.5 C65.9,78.6 66.0,77.0 62.2,75.5 C58.3,74.0 49.1,73.5 42.5,73.5 C35.9,73.5 26.7,74.0 22.8,75.5Z" fill="#767676"/>
<path d="M31.4,-3.0 C28.6,-1.0 33.9,5.7 33.6,9.0 C33.3,12.3 30.9,13.1 29.8,17.0 C28.6,20.9 27.5,28.2 26.7,32.4 C25.9,36.6 25.6,35.3 24.8,42.4 C24.0,49.5 22.3,69.0 21.8,75.0 C21.3,81.0 21.6,77.1 21.8,78.5 C22.0,79.9 21.9,81.5 23.2,83.5 C24.6,85.5 27.9,88.3 30.1,90.5 C32.3,92.7 35.0,94.7 36.5,96.5 C38.0,98.3 37.4,100.7 39.0,101.5 C40.6,102.3 44.4,102.3 46.0,101.5 C47.6,100.7 47.0,98.3 48.5,96.5 C50.0,94.7 52.7,92.7 54.9,90.5 C57.1,88.3 60.4,85.5 61.8,83.5 C63.1,81.5 63.0,79.9 63.2,78.5 C63.4,77.1 63.9,81.0 63.2,75.0 C62.5,69.0 59.9,49.5 58.8,42.4 C57.7,35.3 57.5,36.6 56.5,32.4 C55.5,28.2 54.1,20.9 52.8,17.0 C51.4,13.1 49.0,12.3 48.6,9.0 C48.2,5.7 53.3,-1.0 50.4,-3.0 C47.5,-5.0 34.2,-5.0 31.4,-3.0Z" fill="#8c8c8c"/>
</g>
<g filter="url(#blur3)"><ellipse cx="42.5" cy="60.0" rx="14.9" ry="24.6" fill="#acacac"/>
<ellipse cx="40.9" cy="2" rx="7" ry="8" fill="#c4c4c4"/></g>
<g filter="url(#blur1)" opacity="0.3" fill="none" stroke="#d0d0d0" stroke-width="0.9">
<path d="M30.0,26.0 Q41.4,21.0 52.8,26.0"/>
<path d="M29.2,31.5 Q41.5,26.5 53.8,31.5"/>
<path d="M28.4,37.0 Q41.6,32.0 54.8,37.0"/>
<path d="M27.7,42.5 Q41.7,37.5 55.8,42.5"/>
<path d="M26.9,48.0 Q41.9,43.0 56.8,48.0"/>
<path d="M26.1,53.5 Q42.0,48.5 57.9,53.5"/>
</g>
<ellipse cx="40.9" cy="3" rx="6.5" ry="9" fill="#cacaca" opacity="0.7" filter="url(#blur2)"/>
<g filter="url(#blur1)" fill="none" stroke-linejoin="round" stroke-linecap="round">
<path d="M31.3,18.0 L25.0,32.4 L4.6,33.4" stroke="#8e8e8e" stroke-width="2.8"/>
<path d="M51.3,18.0 L58.2,32.4 L77.3,33.4" stroke="#8e8e8e" stroke-width="2.8"/>
<path d="M19.3,82.5 L22.8,103.0 L7.8,107.0" stroke="#9a9a9a" stroke-width="3.0"/>
<path d="M65.7,82.5 L62.2,103.0 L79.4,107.0" stroke="#9a9a9a" stroke-width="3.0"/>
<path d="M20.3,82.5 L38.5,87.5 M64.7,82.5 L46.5,87.5" stroke="#cacaca" stroke-width="1.3"/>
<path d="M39.5,73.5 L38.5,93.5 M45.5,73.5 L46.5,93.5" stroke="#b8b8b8" stroke-width="1"/>
<path d="M19.3,82.5 L22.8,103.0 M65.7,82.5 L62.2,103.0 M31.3,18.0 L25.0,32.4 M51.3,18.0 L58.2,32.4" stroke="#b4b4b4" stroke-width="1"/>
<path d="M42.5,95.5 L42.5,123.0" stroke="#8c8c8c" stroke-width="3"/>
<path d="M40.9,0 Q42.5,75.0 42.5,91.5 L42.5,123.0" stroke="#d4d4d4" stroke-width="1.6" opacity="0.8"/>
</g>
<ellipse cx="21.8" cy="15.6" rx="4.2" ry="2.4" fill="#fafafa" transform="rotate(10 21.8 15.6)"/>
<path d="M68.3,80.9 L67.5,83.3 L65.9,83.5 L63.6,82.9 L62.0,82.4 L62.5,78.7 L63.8,77.9 L65.6,76.8 L67.6,78.1Z" fill="#74f024" filter="url(#blur05)"/>
<path d="M28.4,104.7 L27.3,106.8 L25.5,109.0 L23.0,107.5 L21.4,106.7 L21.4,104.2 L23.6,101.6 L25.2,101.1 L27.4,102.6Z" fill="#74f024" filter="url(#blur05)"/>
<path d="M65.3,104.6 L64.1,107.5 L61.9,107.6 L59.4,106.4 L56.9,105.9 L57.2,103.1 L59.4,101.0 L61.5,99.5 L63.6,101.4Z" fill="#74f024" filter="url(#blur05)"/>
</g></g>
<rect x="488.5" y="180" width="29.7" height="292.9" fill="none" stroke="#d0d0d0" stroke-width="0.8"/>
<rect x="463" y="186.2" width="15.8" height="279.6" fill="url(#cbar)" stroke="#201030" stroke-width="1"/>
<line x1="479" y1="186.3" x2="488.5" y2="186.3" stroke="#777" stroke-width="1.2"/>
<text x="489.6" y="188.70000000000002" font-size="6.6" font-weight="normal" text-anchor="start" fill="#333">81.00</text>
<line x1="479" y1="256.2" x2="488.5" y2="256.2" stroke="#777" stroke-width="1.2"/>
<text x="489.6" y="258.59999999999997" font-size="6.6" font-weight="normal" text-anchor="start" fill="#333">106.70</text>
<line x1="479" y1="326.8" x2="488.5" y2="326.8" stroke="#777" stroke-width="1.2"/>
<text x="489.6" y="329.2" font-size="6.6" font-weight="normal" text-anchor="start" fill="#333">132.39</text>
<line x1="479" y1="396.6" x2="488.5" y2="396.6" stroke="#777" stroke-width="1.2"/>
<text x="489.6" y="399.0" font-size="6.6" font-weight="normal" text-anchor="start" fill="#333">158.09</text>
<line x1="479" y1="466" x2="488.5" y2="466" stroke="#777" stroke-width="1.2"/>
<text x="489.6" y="468.4" font-size="6.6" font-weight="normal" text-anchor="start" fill="#333">183.78</text>
<text x="1.2" y="487.3" font-size="12.5" font-weight="bold" text-anchor="start" fill="#111">D</text>
<line x1="36.3" y1="517.5" x2="36.3" y2="623" stroke="#111" stroke-width="1.8"/>
<line x1="33.0" y1="622.0" x2="36.3" y2="622.0" stroke="#111" stroke-width="1.2"/>
<text x="29.6" y="624.7" font-size="7.8" font-weight="normal" text-anchor="end" fill="#222">0</text>
<line x1="33.0" y1="596.0" x2="36.3" y2="596.0" stroke="#111" stroke-width="1.2"/>
<text x="29.6" y="598.7" font-size="7.8" font-weight="normal" text-anchor="end" fill="#222">100</text>
<line x1="33.0" y1="570.0" x2="36.3" y2="570.0" stroke="#111" stroke-width="1.2"/>
<text x="29.6" y="572.7" font-size="7.8" font-weight="normal" text-anchor="end" fill="#222">200</text>
<line x1="33.0" y1="544.0" x2="36.3" y2="544.0" stroke="#111" stroke-width="1.2"/>
<text x="29.6" y="546.7" font-size="7.8" font-weight="normal" text-anchor="end" fill="#222">300</text>
<line x1="33.0" y1="518.0" x2="36.3" y2="518.0" stroke="#111" stroke-width="1.2"/>
<text x="29.6" y="520.7" font-size="7.8" font-weight="normal" text-anchor="end" fill="#222">400</text>
<text x="10.6" y="570.2" font-size="8.5" font-weight="bold" text-anchor="middle" fill="#111" transform="rotate(-90 10.6 570.2)">spleen infiltration nod scid</text>
<line x1="35.3" y1="622" x2="238" y2="622" stroke="#111" stroke-width="1.8"/>
<rect x="39.70" y="596.00" width="17.10" height="26.00" fill="#1e1e1e" stroke="#111" stroke-width="1.3"/>
<line x1="48.25" y1="622" x2="48.25" y2="625" stroke="#111" stroke-width="1.2"/>
<text x="49.05" y="633.5" font-size="8" font-weight="bold" text-anchor="end" fill="#111" transform="rotate(-45 49.05 633.5)">con d0</text>
<rect x="65.05" y="596.00" width="17.10" height="26.00" fill="#a3a3a7" stroke="#111" stroke-width="1.3"/>
<line x1="73.6" y1="622" x2="73.6" y2="625" stroke="#111" stroke-width="1.2"/>
<text x="74.39999999999999" y="633.5" font-size="8" font-weight="bold" text-anchor="end" fill="#111" transform="rotate(-45 74.39999999999999 633.5)">treat d0</text>
<line x1="98.95" y1="529.96" x2="98.95" y2="555.44" stroke="#111" stroke-width="1.4"/>
<line x1="94.95" y1="529.96" x2="102.95" y2="529.96" stroke="#111" stroke-width="1.6"/>
<rect x="90.40" y="555.44" width="17.10" height="66.56" fill="#1e1e1e" stroke="#111" stroke-width="1.3"/>
<line x1="98.95" y1="622" x2="98.95" y2="625" stroke="#111" stroke-width="1.2"/>
<text x="99.75" y="633.5" font-size="8" font-weight="bold" text-anchor="end" fill="#111" transform="rotate(-45 99.75 633.5)">con d7</text>
<line x1="124.30000000000001" y1="588.2" x2="124.30000000000001" y2="596.0" stroke="#111" stroke-width="1.4"/>
<line x1="120.30000000000001" y1="588.2" x2="128.3" y2="588.2" stroke="#111" stroke-width="1.6"/>
<rect x="115.75" y="596.00" width="17.10" height="26.00" fill="#a3a3a7" stroke="#111" stroke-width="1.3"/>
<line x1="124.30000000000001" y1="622" x2="124.30000000000001" y2="625" stroke="#111" stroke-width="1.2"/>
<text x="125.10000000000001" y="633.5" font-size="8" font-weight="bold" text-anchor="end" fill="#111" transform="rotate(-45 125.10000000000001 633.5)">treat d7</text>
<line x1="149.65" y1="560.38" x2="149.65" y2="567.4" stroke="#111" stroke-width="1.4"/>
<line x1="145.65" y1="560.38" x2="153.65" y2="560.38" stroke="#111" stroke-width="1.6"/>
<rect x="141.10" y="567.40" width="17.10" height="54.60" fill="#1e1e1e" stroke="#111" stroke-width="1.3"/>
<line x1="149.65" y1="622" x2="149.65" y2="625" stroke="#111" stroke-width="1.2"/>
<text x="150.45000000000002" y="633.5" font-size="8" font-weight="bold" text-anchor="end" fill="#111" transform="rotate(-45 150.45000000000002 633.5)">con d14</text>
<line x1="175.0" y1="591.06" x2="175.0" y2="600.42" stroke="#111" stroke-width="1.4"/>
<line x1="171.0" y1="591.06" x2="179.0" y2="591.06" stroke="#111" stroke-width="1.6"/>
<rect x="166.45" y="600.42" width="17.10" height="21.58" fill="#a3a3a7" stroke="#111" stroke-width="1.3"/>
<line x1="175.0" y1="622" x2="175.0" y2="625" stroke="#111" stroke-width="1.2"/>
<text x="175.8" y="633.5" font-size="8" font-weight="bold" text-anchor="end" fill="#111" transform="rotate(-45 175.8 633.5)">treat d14</text>
<line x1="200.35000000000002" y1="538.54" x2="200.35000000000002" y2="555.7" stroke="#111" stroke-width="1.4"/>
<line x1="196.35000000000002" y1="538.54" x2="204.35000000000002" y2="538.54" stroke="#111" stroke-width="1.6"/>
<rect x="191.80" y="555.70" width="17.10" height="66.30" fill="#1e1e1e" stroke="#111" stroke-width="1.3"/>
<line x1="200.35000000000002" y1="622" x2="200.35000000000002" y2="625" stroke="#111" stroke-width="1.2"/>
<text x="201.15000000000003" y="633.5" font-size="8" font-weight="bold" text-anchor="end" fill="#111" transform="rotate(-45 201.15000000000003 633.5)">con d21</text>
<line x1="225.70000000000002" y1="586.64" x2="225.70000000000002" y2="597.56" stroke="#111" stroke-width="1.4"/>
<line x1="221.70000000000002" y1="586.64" x2="229.70000000000002" y2="586.64" stroke="#111" stroke-width="1.6"/>
<rect x="217.15" y="597.56" width="17.10" height="24.44" fill="#a3a3a7" stroke="#111" stroke-width="1.3"/>
<line x1="225.70000000000002" y1="622" x2="225.70000000000002" y2="625" stroke="#111" stroke-width="1.2"/>
<text x="226.50000000000003" y="633.5" font-size="8" font-weight="bold" text-anchor="end" fill="#111" transform="rotate(-45 226.50000000000003 633.5)">treat d21</text>
<line x1="52" y1="492.9" x2="193.6" y2="492.9" stroke="#111" stroke-width="1.8"/>
<line x1="52" y1="502.7" x2="142.3" y2="502.7" stroke="#111" stroke-width="1.8"/>
<line x1="52" y1="512.2" x2="98.8" y2="512.2" stroke="#111" stroke-width="1.8"/>
<line x1="145.2" y1="539.2" x2="172.9" y2="539.2" stroke="#111" stroke-width="1.8"/>
<text x="136.29999999999998" y="491.1" font-size="8.3" font-weight="bold" text-anchor="middle" fill="#444" letter-spacing="2.2">***</text>
<text x="97.69999999999999" y="501.8" font-size="8.3" font-weight="bold" text-anchor="middle" fill="#444" letter-spacing="2.2">**</text>
<text x="80.1" y="510.5" font-size="8.3" font-weight="bold" text-anchor="middle" fill="#444" letter-spacing="2.2">**</text>
<text x="160.7" y="537.5" font-size="8.3" font-weight="bold" text-anchor="middle" fill="#444" letter-spacing="2.2">*</text>
<text x="268.5" y="487.3" font-size="12.5" font-weight="bold" text-anchor="start" fill="#111">E</text>
<line x1="293.3" y1="517.5" x2="293.3" y2="622.6" stroke="#111" stroke-width="1.8"/>
<line x1="290.0" y1="621.6" x2="293.3" y2="621.6" stroke="#111" stroke-width="1.2"/>
<text x="289.6" y="624.3000000000001" font-size="7.8" font-weight="normal" text-anchor="end" fill="#222">0</text>
<line x1="290.0" y1="587.35" x2="293.3" y2="587.35" stroke="#111" stroke-width="1.2"/>
<text x="289.6" y="590.0500000000001" font-size="7.8" font-weight="normal" text-anchor="end" fill="#222">100</text>
<line x1="290.0" y1="553.1" x2="293.3" y2="553.1" stroke="#111" stroke-width="1.2"/>
<text x="289.6" y="555.8000000000001" font-size="7.8" font-weight="normal" text-anchor="end" fill="#222">200</text>
<line x1="290.0" y1="518.85" x2="293.3" y2="518.85" stroke="#111" stroke-width="1.2"/>
<text x="289.6" y="521.5500000000001" font-size="7.8" font-weight="normal" text-anchor="end" fill="#222">300</text>
<text x="269.4" y="570.3" font-size="8.45" font-weight="bold" text-anchor="middle" fill="#111" transform="rotate(-90 269.4 570.3)">BM infiltration nod scid</text>
<line x1="292.3" y1="621.6" x2="497" y2="621.6" stroke="#111" stroke-width="1.8"/>
<rect x="298.70" y="587.35" width="17.10" height="34.25" fill="#1e1e1e" stroke="#111" stroke-width="1.3"/>
<line x1="307.25" y1="621.6" x2="307.25" y2="624.6" stroke="#111" stroke-width="1.2"/>
<text x="308.05" y="633.1" font-size="8" font-weight="bold" text-anchor="end" fill="#111" transform="rotate(-45 308.05 633.1)">con d0</text>
<rect x="324.05" y="587.35" width="17.10" height="34.25" fill="#a3a3a7" stroke="#111" stroke-width="1.3"/>
<line x1="332.6" y1="621.6" x2="332.6" y2="624.6" stroke="#111" stroke-width="1.2"/>
<text x="333.40000000000003" y="633.1" font-size="8" font-weight="bold" text-anchor="end" fill="#111" transform="rotate(-45 333.40000000000003 633.1)">treat d0</text>
<line x1="357.95" y1="550.36" x2="357.95" y2="557.21" stroke="#111" stroke-width="1.4"/>
<line x1="353.95" y1="550.36" x2="361.95" y2="550.36" stroke="#111" stroke-width="1.6"/>
<rect x="349.40" y="557.21" width="17.10" height="64.39" fill="#1e1e1e" stroke="#111" stroke-width="1.3"/>
<line x1="357.95" y1="621.6" x2="357.95" y2="624.6" stroke="#111" stroke-width="1.2"/>
<text x="358.75" y="633.1" font-size="8" font-weight="bold" text-anchor="end" fill="#111" transform="rotate(-45 358.75 633.1)">con d7</text>
<line x1="383.3" y1="559.265" x2="383.3" y2="564.0600000000001" stroke="#111" stroke-width="1.4"/>
<line x1="379.3" y1="559.265" x2="387.3" y2="559.265" stroke="#111" stroke-width="1.6"/>
<rect x="374.75" y="564.06" width="17.10" height="57.54" fill="#a3a3a7" stroke="#111" stroke-width="1.3"/>
<line x1="383.3" y1="621.6" x2="383.3" y2="624.6" stroke="#111" stroke-width="1.2"/>
<text x="384.1" y="633.1" font-size="8" font-weight="bold" text-anchor="end" fill="#111" transform="rotate(-45 384.1 633.1)">treat d7</text>
<line x1="408.65" y1="550.7025" x2="408.65" y2="557.895" stroke="#111" stroke-width="1.4"/>
<line x1="404.65" y1="550.7025" x2="412.65" y2="550.7025" stroke="#111" stroke-width="1.6"/>
<rect x="400.10" y="557.89" width="17.10" height="63.71" fill="#1e1e1e" stroke="#111" stroke-width="1.3"/>
<line x1="408.65" y1="621.6" x2="408.65" y2="624.6" stroke="#111" stroke-width="1.2"/>
<text x="409.45" y="633.1" font-size="8" font-weight="bold" text-anchor="end" fill="#111" transform="rotate(-45 409.45 633.1)">con d14</text>
<line x1="434.0" y1="564.745" x2="434.0" y2="570.225" stroke="#111" stroke-width="1.4"/>
<line x1="430.0" y1="564.745" x2="438.0" y2="564.745" stroke="#111" stroke-width="1.6"/>
<rect x="425.45" y="570.23" width="17.10" height="51.38" fill="#a3a3a7" stroke="#111" stroke-width="1.3"/>
<line x1="434.0" y1="621.6" x2="434.0" y2="624.6" stroke="#111" stroke-width="1.2"/>
<text x="434.8" y="633.1" font-size="8" font-weight="bold" text-anchor="end" fill="#111" transform="rotate(-45 434.8 633.1)">treat d14</text>
<line x1="459.35" y1="547.62" x2="459.35" y2="553.1" stroke="#111" stroke-width="1.4"/>
<line x1="455.35" y1="547.62" x2="463.35" y2="547.62" stroke="#111" stroke-width="1.6"/>
<rect x="450.80" y="553.10" width="17.10" height="68.50" fill="#1e1e1e" stroke="#111" stroke-width="1.3"/>
<line x1="459.35" y1="621.6" x2="459.35" y2="624.6" stroke="#111" stroke-width="1.2"/>
<text x="460.15000000000003" y="633.1" font-size="8" font-weight="bold" text-anchor="end" fill="#111" transform="rotate(-45 460.15000000000003 633.1)">con d21</text>
<line x1="484.70000000000005" y1="559.265" x2="484.70000000000005" y2="563.375" stroke="#111" stroke-width="1.4"/>
<line x1="480.70000000000005" y1="559.265" x2="488.70000000000005" y2="559.265" stroke="#111" stroke-width="1.6"/>
<rect x="476.15" y="563.38" width="17.10" height="58.23" fill="#a3a3a7" stroke="#111" stroke-width="1.3"/>
<line x1="484.70000000000005" y1="621.6" x2="484.70000000000005" y2="624.6" stroke="#111" stroke-width="1.2"/>
<text x="485.50000000000006" y="633.1" font-size="8" font-weight="bold" text-anchor="end" fill="#111" transform="rotate(-45 485.50000000000006 633.1)">treat d21</text>
<line x1="306.8" y1="492.9" x2="448.5" y2="492.9" stroke="#111" stroke-width="1.8"/>
<line x1="306.8" y1="502.7" x2="397.4" y2="502.7" stroke="#111" stroke-width="1.8"/>
<line x1="306.8" y1="512.2" x2="353" y2="512.2" stroke="#111" stroke-width="1.8"/>
<text x="391.1" y="491.1" font-size="8.3" font-weight="bold" text-anchor="middle" fill="#444" letter-spacing="2.2">***</text>
<text x="351.90000000000003" y="501.8" font-size="8.3" font-weight="bold" text-anchor="middle" fill="#444" letter-spacing="2.2">**</text>
<text x="334.6" y="510.5" font-size="8.3" font-weight="bold" text-anchor="middle" fill="#444" letter-spacing="2.2">**</text>
</svg>
</body></html>
